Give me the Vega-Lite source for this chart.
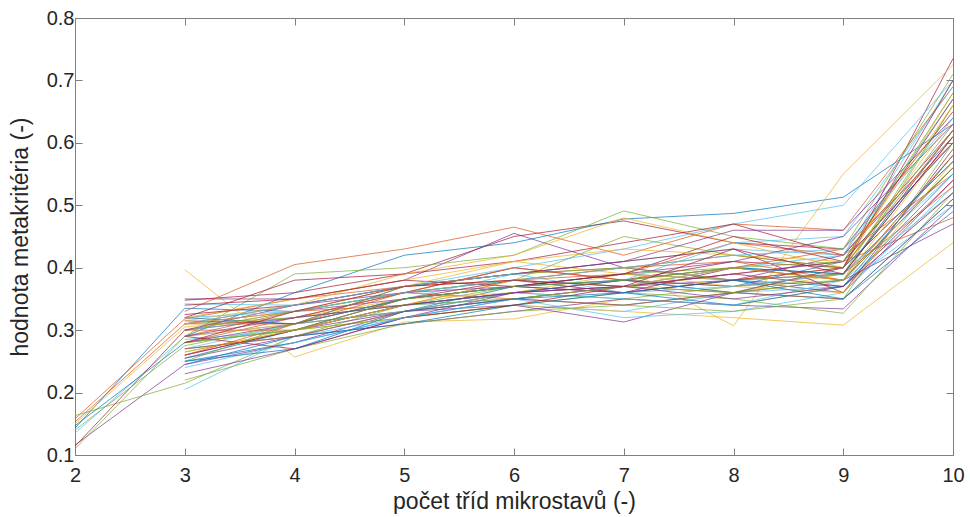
{
"$schema": "https://vega.github.io/schema/vega-lite/v6.json",
"autosize": "none",
"width": 878,
"height": 437,
"padding": {"left": 75, "top": 18, "right": 17, "bottom": 62},
"background": "white",
"config": {"view": {"stroke": null}, "font": "Liberation Sans"},
"data": {"values": [
{"s":1,"x":2,"y":0.143},{"s":1,"x":3,"y":0.335},{"s":1,"x":4,"y":0.33},{"s":1,"x":5,"y":0.36},{"s":1,"x":6,"y":0.38},{"s":1,"x":7,"y":0.37},{"s":1,"x":8,"y":0.40},{"s":1,"x":9,"y":0.39},{"s":1,"x":10,"y":0.61},
{"s":2,"x":2,"y":0.158},{"s":2,"x":3,"y":0.318},{"s":2,"x":4,"y":0.35},{"s":2,"x":5,"y":0.37},{"s":2,"x":6,"y":0.39},{"s":2,"x":7,"y":0.40},{"s":2,"x":8,"y":0.42},{"s":2,"x":9,"y":0.40},{"s":2,"x":10,"y":0.57},
{"s":3,"x":2,"y":0.150},{"s":3,"x":3,"y":0.305},{"s":3,"x":4,"y":0.32},{"s":3,"x":5,"y":0.35},{"s":3,"x":6,"y":0.37},{"s":3,"x":7,"y":0.38},{"s":3,"x":8,"y":0.36},{"s":3,"x":9,"y":0.39},{"s":3,"x":10,"y":0.62},
{"s":4,"x":2,"y":0.116},{"s":4,"x":3,"y":0.245},{"s":4,"x":4,"y":0.28},{"s":4,"x":5,"y":0.33},{"s":4,"x":6,"y":0.35},{"s":4,"x":7,"y":0.37},{"s":4,"x":8,"y":0.38},{"s":4,"x":9,"y":0.36},{"s":4,"x":10,"y":0.54},
{"s":5,"x":2,"y":0.163},{"s":5,"x":3,"y":0.215},{"s":5,"x":4,"y":0.29},{"s":5,"x":5,"y":0.34},{"s":5,"x":6,"y":0.37},{"s":5,"x":7,"y":0.39},{"s":5,"x":8,"y":0.40},{"s":5,"x":9,"y":0.38},{"s":5,"x":10,"y":0.66},
{"s":6,"x":2,"y":0.135},{"s":6,"x":3,"y":0.29},{"s":6,"x":4,"y":0.31},{"s":6,"x":5,"y":0.35},{"s":6,"x":6,"y":0.39},{"s":6,"x":7,"y":0.41},{"s":6,"x":8,"y":0.43},{"s":6,"x":9,"y":0.42},{"s":6,"x":10,"y":0.70},
{"s":7,"x":2,"y":0.114},{"s":7,"x":3,"y":0.30},{"s":7,"x":4,"y":0.32},{"s":7,"x":5,"y":0.36},{"s":7,"x":6,"y":0.40},{"s":7,"x":7,"y":0.38},{"s":7,"x":8,"y":0.41},{"s":7,"x":9,"y":0.40},{"s":7,"x":10,"y":0.735},
{"s":8,"x":2,"y":0.147},{"s":8,"x":3,"y":0.28},{"s":8,"x":4,"y":0.30},{"s":8,"x":5,"y":0.34},{"s":8,"x":6,"y":0.36},{"s":8,"x":7,"y":0.38},{"s":8,"x":8,"y":0.37},{"s":8,"x":9,"y":0.41},{"s":8,"x":10,"y":0.60},
{"s":9,"x":2,"y":0.153},{"s":9,"x":3,"y":0.31},{"s":9,"x":4,"y":0.34},{"s":9,"x":5,"y":0.37},{"s":9,"x":6,"y":0.38},{"s":9,"x":7,"y":0.39},{"s":9,"x":8,"y":0.44},{"s":9,"x":9,"y":0.42},{"s":9,"x":10,"y":0.55},
{"s":10,"x":3,"y":0.397},{"s":10,"x":4,"y":0.257},{"s":10,"x":5,"y":0.313},{"s":10,"x":6,"y":0.318},{"s":10,"x":7,"y":0.35},{"s":10,"x":8,"y":0.34},{"s":10,"x":9,"y":0.37},{"s":10,"x":10,"y":0.52},
{"s":11,"x":3,"y":0.35},{"s":11,"x":4,"y":0.35},{"s":11,"x":5,"y":0.38},{"s":11,"x":6,"y":0.455},{"s":11,"x":7,"y":0.40},{"s":11,"x":8,"y":0.38},{"s":11,"x":9,"y":0.39},{"s":11,"x":10,"y":0.56},
{"s":12,"x":2,"y":0.14},{"s":12,"x":3,"y":0.275},{"s":12,"x":4,"y":0.31},{"s":12,"x":5,"y":0.33},{"s":12,"x":6,"y":0.36},{"s":12,"x":7,"y":0.35},{"s":12,"x":8,"y":0.37},{"s":12,"x":9,"y":0.38},{"s":12,"x":10,"y":0.58},
{"s":13,"x":3,"y":0.205},{"s":13,"x":4,"y":0.29},{"s":13,"x":5,"y":0.32},{"s":13,"x":6,"y":0.34},{"s":13,"x":7,"y":0.33},{"s":13,"x":8,"y":0.36},{"s":13,"x":9,"y":0.37},{"s":13,"x":10,"y":0.50},
{"s":14,"x":3,"y":0.348},{"s":14,"x":4,"y":0.36},{"s":14,"x":5,"y":0.39},{"s":14,"x":6,"y":0.45},{"s":14,"x":7,"y":0.475},{"s":14,"x":8,"y":0.44},{"s":14,"x":9,"y":0.43},{"s":14,"x":10,"y":0.65},
{"s":15,"x":3,"y":0.29},{"s":15,"x":4,"y":0.36},{"s":15,"x":5,"y":0.42},{"s":15,"x":6,"y":0.44},{"s":15,"x":7,"y":0.478},{"s":15,"x":8,"y":0.487},{"s":15,"x":9,"y":0.513},{"s":15,"x":10,"y":0.63},
{"s":16,"x":3,"y":0.33},{"s":16,"x":4,"y":0.405},{"s":16,"x":5,"y":0.43},{"s":16,"x":6,"y":0.465},{"s":16,"x":7,"y":0.42},{"s":16,"x":8,"y":0.47},{"s":16,"x":9,"y":0.46},{"s":16,"x":10,"y":0.69},
{"s":17,"x":3,"y":0.30},{"s":17,"x":4,"y":0.33},{"s":17,"x":5,"y":0.36},{"s":17,"x":6,"y":0.38},{"s":17,"x":7,"y":0.40},{"s":17,"x":8,"y":0.307},{"s":17,"x":9,"y":0.55},{"s":17,"x":10,"y":0.725},
{"s":18,"x":3,"y":0.26},{"s":18,"x":4,"y":0.30},{"s":18,"x":5,"y":0.33},{"s":18,"x":6,"y":0.34},{"s":18,"x":7,"y":0.313},{"s":18,"x":8,"y":0.36},{"s":18,"x":9,"y":0.38},{"s":18,"x":10,"y":0.47},
{"s":19,"x":2,"y":0.11},{"s":19,"x":3,"y":0.29},{"s":19,"x":4,"y":0.39},{"s":19,"x":5,"y":0.40},{"s":19,"x":6,"y":0.42},{"s":19,"x":7,"y":0.491},{"s":19,"x":8,"y":0.45},{"s":19,"x":9,"y":0.43},{"s":19,"x":10,"y":0.71},
{"s":20,"x":3,"y":0.342},{"s":20,"x":4,"y":0.34},{"s":20,"x":5,"y":0.37},{"s":20,"x":6,"y":0.40},{"s":20,"x":7,"y":0.43},{"s":20,"x":8,"y":0.47},{"s":20,"x":9,"y":0.50},{"s":20,"x":10,"y":0.70},
{"s":21,"x":3,"y":0.32},{"s":21,"x":4,"y":0.38},{"s":21,"x":5,"y":0.39},{"s":21,"x":6,"y":0.41},{"s":21,"x":7,"y":0.44},{"s":21,"x":8,"y":0.47},{"s":21,"x":9,"y":0.42},{"s":21,"x":10,"y":0.62},
{"s":22,"x":3,"y":0.25},{"s":22,"x":4,"y":0.28},{"s":22,"x":5,"y":0.32},{"s":22,"x":6,"y":0.35},{"s":22,"x":7,"y":0.34},{"s":22,"x":8,"y":0.36},{"s":22,"x":9,"y":0.35},{"s":22,"x":10,"y":0.49},
{"s":23,"x":3,"y":0.31},{"s":23,"x":4,"y":0.31},{"s":23,"x":5,"y":0.33},{"s":23,"x":6,"y":0.36},{"s":23,"x":7,"y":0.37},{"s":23,"x":8,"y":0.39},{"s":23,"x":9,"y":0.41},{"s":23,"x":10,"y":0.48},
{"s":24,"x":3,"y":0.28},{"s":24,"x":4,"y":0.30},{"s":24,"x":5,"y":0.32},{"s":24,"x":6,"y":0.34},{"s":24,"x":7,"y":0.33},{"s":24,"x":8,"y":0.32},{"s":24,"x":9,"y":0.308},{"s":24,"x":10,"y":0.44},
{"s":25,"x":3,"y":0.255},{"s":25,"x":4,"y":0.29},{"s":25,"x":5,"y":0.31},{"s":25,"x":6,"y":0.33},{"s":25,"x":7,"y":0.35},{"s":25,"x":8,"y":0.34},{"s":25,"x":9,"y":0.334},{"s":25,"x":10,"y":0.50},
{"s":26,"x":3,"y":0.265},{"s":26,"x":4,"y":0.30},{"s":26,"x":5,"y":0.32},{"s":26,"x":6,"y":0.34},{"s":26,"x":7,"y":0.36},{"s":26,"x":8,"y":0.35},{"s":26,"x":9,"y":0.327},{"s":26,"x":10,"y":0.52},
{"s":27,"x":3,"y":0.30},{"s":27,"x":4,"y":0.32},{"s":27,"x":5,"y":0.34},{"s":27,"x":6,"y":0.35},{"s":27,"x":7,"y":0.32},{"s":27,"x":8,"y":0.33},{"s":27,"x":9,"y":0.36},{"s":27,"x":10,"y":0.53},
{"s":28,"x":3,"y":0.315},{"s":28,"x":4,"y":0.31},{"s":28,"x":5,"y":0.35},{"s":28,"x":6,"y":0.37},{"s":28,"x":7,"y":0.36},{"s":28,"x":8,"y":0.40},{"s":28,"x":9,"y":0.38},{"s":28,"x":10,"y":0.56},
{"s":29,"x":3,"y":0.27},{"s":29,"x":4,"y":0.29},{"s":29,"x":5,"y":0.33},{"s":29,"x":6,"y":0.37},{"s":29,"x":7,"y":0.39},{"s":29,"x":8,"y":0.38},{"s":29,"x":9,"y":0.37},{"s":29,"x":10,"y":0.58},
{"s":30,"x":3,"y":0.29},{"s":30,"x":4,"y":0.33},{"s":30,"x":5,"y":0.34},{"s":30,"x":6,"y":0.36},{"s":30,"x":7,"y":0.38},{"s":30,"x":8,"y":0.37},{"s":30,"x":9,"y":0.39},{"s":30,"x":10,"y":0.53},
{"s":31,"x":3,"y":0.32},{"s":31,"x":4,"y":0.35},{"s":31,"x":5,"y":0.38},{"s":31,"x":6,"y":0.41},{"s":31,"x":7,"y":0.39},{"s":31,"x":8,"y":0.38},{"s":31,"x":9,"y":0.40},{"s":31,"x":10,"y":0.64},
{"s":32,"x":3,"y":0.31},{"s":32,"x":4,"y":0.33},{"s":32,"x":5,"y":0.35},{"s":32,"x":6,"y":0.37},{"s":32,"x":7,"y":0.36},{"s":32,"x":8,"y":0.38},{"s":32,"x":9,"y":0.42},{"s":32,"x":10,"y":0.61},
{"s":33,"x":3,"y":0.30},{"s":33,"x":4,"y":0.33},{"s":33,"x":5,"y":0.36},{"s":33,"x":6,"y":0.38},{"s":33,"x":7,"y":0.45},{"s":33,"x":8,"y":0.42},{"s":33,"x":9,"y":0.40},{"s":33,"x":10,"y":0.63},
{"s":34,"x":3,"y":0.285},{"s":34,"x":4,"y":0.30},{"s":34,"x":5,"y":0.35},{"s":34,"x":6,"y":0.37},{"s":34,"x":7,"y":0.38},{"s":34,"x":8,"y":0.44},{"s":34,"x":9,"y":0.45},{"s":34,"x":10,"y":0.69},
{"s":35,"x":3,"y":0.325},{"s":35,"x":4,"y":0.34},{"s":35,"x":5,"y":0.37},{"s":35,"x":6,"y":0.39},{"s":35,"x":7,"y":0.41},{"s":35,"x":8,"y":0.43},{"s":35,"x":9,"y":0.36},{"s":35,"x":10,"y":0.59},
{"s":36,"x":3,"y":0.245},{"s":36,"x":4,"y":0.29},{"s":36,"x":5,"y":0.31},{"s":36,"x":6,"y":0.34},{"s":36,"x":7,"y":0.36},{"s":36,"x":8,"y":0.34},{"s":36,"x":9,"y":0.37},{"s":36,"x":10,"y":0.55},
{"s":37,"x":3,"y":0.28},{"s":37,"x":4,"y":0.32},{"s":37,"x":5,"y":0.36},{"s":37,"x":6,"y":0.35},{"s":37,"x":7,"y":0.34},{"s":37,"x":8,"y":0.36},{"s":37,"x":9,"y":0.35},{"s":37,"x":10,"y":0.51},
{"s":38,"x":3,"y":0.315},{"s":38,"x":4,"y":0.34},{"s":38,"x":5,"y":0.39},{"s":38,"x":6,"y":0.42},{"s":38,"x":7,"y":0.48},{"s":38,"x":8,"y":0.44},{"s":38,"x":9,"y":0.40},{"s":38,"x":10,"y":0.68},
{"s":39,"x":3,"y":0.28},{"s":39,"x":4,"y":0.31},{"s":39,"x":5,"y":0.37},{"s":39,"x":6,"y":0.39},{"s":39,"x":7,"y":0.41},{"s":39,"x":8,"y":0.46},{"s":39,"x":9,"y":0.46},{"s":39,"x":10,"y":0.64},
{"s":40,"x":3,"y":0.22},{"s":40,"x":4,"y":0.27},{"s":40,"x":5,"y":0.31},{"s":40,"x":6,"y":0.33},{"s":40,"x":7,"y":0.34},{"s":40,"x":8,"y":0.33},{"s":40,"x":9,"y":0.35},{"s":40,"x":10,"y":0.60},
{"s":41,"x":3,"y":0.27},{"s":41,"x":4,"y":0.31},{"s":41,"x":5,"y":0.33},{"s":41,"x":6,"y":0.36},{"s":41,"x":7,"y":0.35},{"s":41,"x":8,"y":0.34},{"s":41,"x":9,"y":0.38},{"s":41,"x":10,"y":0.52},
{"s":42,"x":3,"y":0.29},{"s":42,"x":4,"y":0.27},{"s":42,"x":5,"y":0.32},{"s":42,"x":6,"y":0.34},{"s":42,"x":7,"y":0.37},{"s":42,"x":8,"y":0.39},{"s":42,"x":9,"y":0.37},{"s":42,"x":10,"y":0.54},
{"s":43,"x":3,"y":0.255},{"s":43,"x":4,"y":0.30},{"s":43,"x":5,"y":0.34},{"s":43,"x":6,"y":0.36},{"s":43,"x":7,"y":0.38},{"s":43,"x":8,"y":0.40},{"s":43,"x":9,"y":0.39},{"s":43,"x":10,"y":0.62},
{"s":44,"x":3,"y":0.30},{"s":44,"x":4,"y":0.30},{"s":44,"x":5,"y":0.34},{"s":44,"x":6,"y":0.38},{"s":44,"x":7,"y":0.40},{"s":44,"x":8,"y":0.41},{"s":44,"x":9,"y":0.38},{"s":44,"x":10,"y":0.58},
{"s":45,"x":3,"y":0.29},{"s":45,"x":4,"y":0.31},{"s":45,"x":5,"y":0.35},{"s":45,"x":6,"y":0.36},{"s":45,"x":7,"y":0.39},{"s":45,"x":8,"y":0.37},{"s":45,"x":9,"y":0.36},{"s":45,"x":10,"y":0.57},
{"s":46,"x":3,"y":0.23},{"s":46,"x":4,"y":0.27},{"s":46,"x":5,"y":0.32},{"s":46,"x":6,"y":0.36},{"s":46,"x":7,"y":0.37},{"s":46,"x":8,"y":0.39},{"s":46,"x":9,"y":0.41},{"s":46,"x":10,"y":0.60},
{"s":47,"x":3,"y":0.25},{"s":47,"x":4,"y":0.31},{"s":47,"x":5,"y":0.37},{"s":47,"x":6,"y":0.39},{"s":47,"x":7,"y":0.40},{"s":47,"x":8,"y":0.38},{"s":47,"x":9,"y":0.39},{"s":47,"x":10,"y":0.66},
{"s":48,"x":3,"y":0.24},{"s":48,"x":4,"y":0.28},{"s":48,"x":5,"y":0.32},{"s":48,"x":6,"y":0.35},{"s":48,"x":7,"y":0.37},{"s":48,"x":8,"y":0.40},{"s":48,"x":9,"y":0.42},{"s":48,"x":10,"y":0.67},
{"s":49,"x":3,"y":0.26},{"s":49,"x":4,"y":0.30},{"s":49,"x":5,"y":0.35},{"s":49,"x":6,"y":0.38},{"s":49,"x":7,"y":0.36},{"s":49,"x":8,"y":0.38},{"s":49,"x":9,"y":0.40},{"s":49,"x":10,"y":0.70},
{"s":50,"x":3,"y":0.32},{"s":50,"x":4,"y":0.31},{"s":50,"x":5,"y":0.35},{"s":50,"x":6,"y":0.37},{"s":50,"x":7,"y":0.38},{"s":50,"x":8,"y":0.36},{"s":50,"x":9,"y":0.40},{"s":50,"x":10,"y":0.57},
{"s":51,"x":3,"y":0.27},{"s":51,"x":4,"y":0.29},{"s":51,"x":5,"y":0.33},{"s":51,"x":6,"y":0.35},{"s":51,"x":7,"y":0.37},{"s":51,"x":8,"y":0.36},{"s":51,"x":9,"y":0.40},{"s":51,"x":10,"y":0.62},
{"s":52,"x":3,"y":0.265},{"s":52,"x":4,"y":0.30},{"s":52,"x":5,"y":0.34},{"s":52,"x":6,"y":0.38},{"s":52,"x":7,"y":0.37},{"s":52,"x":8,"y":0.40},{"s":52,"x":9,"y":0.38},{"s":52,"x":10,"y":0.61},
{"s":53,"x":3,"y":0.30},{"s":53,"x":4,"y":0.34},{"s":53,"x":5,"y":0.36},{"s":53,"x":6,"y":0.37},{"s":53,"x":7,"y":0.39},{"s":53,"x":8,"y":0.41},{"s":53,"x":9,"y":0.45},{"s":53,"x":10,"y":0.63},
{"s":54,"x":3,"y":0.31},{"s":54,"x":4,"y":0.32},{"s":54,"x":5,"y":0.34},{"s":54,"x":6,"y":0.35},{"s":54,"x":7,"y":0.37},{"s":54,"x":8,"y":0.36},{"s":54,"x":9,"y":0.38},{"s":54,"x":10,"y":0.56},
{"s":55,"x":3,"y":0.31},{"s":55,"x":4,"y":0.34},{"s":55,"x":5,"y":0.37},{"s":55,"x":6,"y":0.39},{"s":55,"x":7,"y":0.36},{"s":55,"x":8,"y":0.37},{"s":55,"x":9,"y":0.39},{"s":55,"x":10,"y":0.55},
{"s":56,"x":3,"y":0.34},{"s":56,"x":4,"y":0.35},{"s":56,"x":5,"y":0.38},{"s":56,"x":6,"y":0.37},{"s":56,"x":7,"y":0.39},{"s":56,"x":8,"y":0.45},{"s":56,"x":9,"y":0.41},{"s":56,"x":10,"y":0.67},
{"s":57,"x":3,"y":0.25},{"s":57,"x":4,"y":0.27},{"s":57,"x":5,"y":0.33},{"s":57,"x":6,"y":0.35},{"s":57,"x":7,"y":0.36},{"s":57,"x":8,"y":0.38},{"s":57,"x":9,"y":0.35},{"s":57,"x":10,"y":0.51},
{"s":58,"x":3,"y":0.26},{"s":58,"x":4,"y":0.31},{"s":58,"x":5,"y":0.36},{"s":58,"x":6,"y":0.40},{"s":58,"x":7,"y":0.38},{"s":58,"x":8,"y":0.40},{"s":58,"x":9,"y":0.43},{"s":58,"x":10,"y":0.60},
{"s":59,"x":3,"y":0.31},{"s":59,"x":4,"y":0.33},{"s":59,"x":5,"y":0.37},{"s":59,"x":6,"y":0.41},{"s":59,"x":7,"y":0.43},{"s":59,"x":8,"y":0.42},{"s":59,"x":9,"y":0.41},{"s":59,"x":10,"y":0.66},
{"s":60,"x":3,"y":0.29},{"s":60,"x":4,"y":0.32},{"s":60,"x":5,"y":0.34},{"s":60,"x":6,"y":0.36},{"s":60,"x":7,"y":0.37},{"s":60,"x":8,"y":0.35},{"s":60,"x":9,"y":0.37},{"s":60,"x":10,"y":0.52},
{"s":61,"x":3,"y":0.28},{"s":61,"x":4,"y":0.30},{"s":61,"x":5,"y":0.35},{"s":61,"x":6,"y":0.37},{"s":61,"x":7,"y":0.38},{"s":61,"x":8,"y":0.40},{"s":61,"x":9,"y":0.41},{"s":61,"x":10,"y":0.68},
{"s":62,"x":3,"y":0.32},{"s":62,"x":4,"y":0.33},{"s":62,"x":5,"y":0.36},{"s":62,"x":6,"y":0.38},{"s":62,"x":7,"y":0.40},{"s":62,"x":8,"y":0.42},{"s":62,"x":9,"y":0.43},{"s":62,"x":10,"y":0.64},
{"s":63,"x":3,"y":0.28},{"s":63,"x":4,"y":0.33},{"s":63,"x":5,"y":0.37},{"s":63,"x":6,"y":0.38},{"s":63,"x":7,"y":0.37},{"s":63,"x":8,"y":0.43},{"s":63,"x":9,"y":0.39},{"s":63,"x":10,"y":0.61}
]},
"layer": [
{
"mark": {"type": "line", "strokeWidth": 0.7, "clip": true},
"encoding": {
"x": {"field": "x", "type": "quantitative", "scale": {"domain": [2, 10], "nice": false, "zero": false},
 "axis": {"orient": "bottom", "values": [2,3,4,5,6,7,8,9,10], "grid": false, "tickSize": -7, "tickColor": "#7f7f7f", "domainColor": "#7f7f7f", "labelFontSize": 20, "labelColor": "#262626", "labelPadding": 17, "labelFlush": false, "labelOverlap": false, "labelFont": "Liberation Sans", "title": "počet tříd mikrostavů (-)", "titleFontSize": 23, "titleFontWeight": "normal", "titleColor": "#262626", "titleFont": "Liberation Sans", "titlePadding": 5}},
"y": {"field": "y", "type": "quantitative", "scale": {"domain": [0.1, 0.8], "nice": false, "zero": false},
 "axis": {"orient": "left", "values": [0.1,0.2,0.3,0.4,0.5,0.6,0.7,0.8], "format": ".1f", "grid": false, "tickSize": -7, "tickColor": "#7f7f7f", "domainColor": "#7f7f7f", "labelFontSize": 20, "labelColor": "#262626", "labelPadding": 8, "labelFlush": false, "labelOverlap": false, "labelFont": "Liberation Sans", "title": "hodnota metakritéria (-)", "titleFontSize": 23, "titleFontWeight": "normal", "titleColor": "#262626", "titleFont": "Liberation Sans", "titlePadding": 14}},
"color": {"field": "s", "type": "nominal", "legend": null, "scale": {"range": ["#0072BD","#D95319","#EDB120","#7E2F8E","#77AC30","#4DBEEE","#A2142F"]}},
"order": {"field": "x", "type": "quantitative"}
}
},
{
"mark": {"type": "point", "opacity": 0},
"encoding": {
"x": {"field": "x", "type": "quantitative", "axis": {"orient": "top", "values": [2,3,4,5,6,7,8,9,10], "labels": false, "title": null, "grid": false, "tickSize": -7, "tickColor": "#7f7f7f", "domainColor": "#7f7f7f"}},
"y": {"field": "y", "type": "quantitative", "axis": {"orient": "right", "values": [0.1,0.2,0.3,0.4,0.5,0.6,0.7,0.8], "labels": false, "title": null, "grid": false, "tickSize": -7, "tickColor": "#7f7f7f", "domainColor": "#7f7f7f"}}
}
}
],
"resolve": {"axis": {"x": "independent", "y": "independent"}}
}
